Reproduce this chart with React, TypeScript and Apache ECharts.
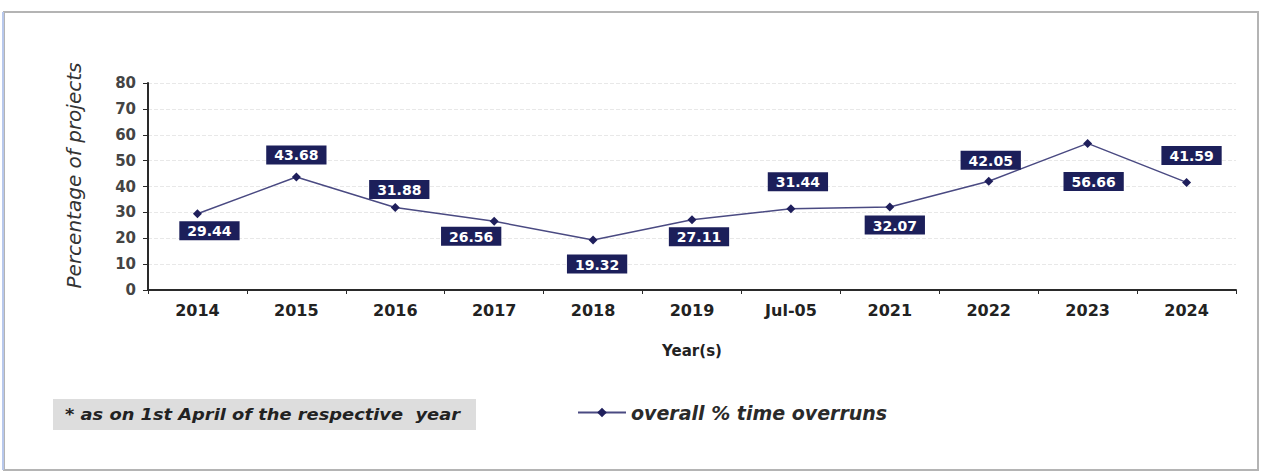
import React, { useEffect, useRef } from "react";
import * as echarts from "echarts";

const categories = ["2014", "2015", "2016", "2017", "2018", "2019", "Jul-05", "2021", "2022", "2023", "2024"];
const overrunValues = [29.44, 43.68, 31.88, 26.56, 19.32, 27.11, 31.44, 32.07, 42.05, 56.66, 41.59];
const yTicks = [0, 10, 20, 30, 40, 50, 60, 70, 80];
const seriesName = "overall % time overruns";
const footnote = "* as on 1st April of the respective  year";

// label placement (style only): [position, distance, xOffset]
const labelPlacement: [string, number, number][] = [
  ["bottom", 3, 12],
  ["top", 8, 0],
  ["top", 4, 4],
  ["bottom", 1, -23],
  ["bottom", 10, 4],
  ["bottom", 3, 7],
  ["top", 13, 7],
  ["bottom", 4, 5],
  ["top", 7, 2],
  ["bottom", 24, 6],
  ["top", 13, 5],
];

const FONT = "'DejaVu Sans', Verdana, sans-serif";

export default function App() {
  const ref = useRef<HTMLDivElement>(null);
  useEffect(() => {
    if (!ref.current) return;
    const chart = echarts.init(ref.current, undefined, { renderer: "svg" });
    const data = overrunValues.map((v, i) => {
      const [pos, dist, dx] = labelPlacement[i];
      return {
        value: v,
        label: { position: pos as any, distance: dist, offset: [dx, 0] },
      };
    });
    chart.setOption({
      animation: false,
      backgroundColor: "#ffffff",
      textStyle: { fontFamily: FONT },
      grid: { left: 148, right: 27, top: 83, bottom: 183, containLabel: false },
      legend: {
        left: 572,
        top: 398,
        itemWidth: 48,
        itemHeight: 12,
        itemGap: 6,
        data: [seriesName],
        textStyle: { fontSize: 19, fontStyle: "italic", fontWeight: "bold", color: "#2a2a2a", fontFamily: FONT },
      },
      xAxis: {
        type: "category",
        data: categories,
        boundaryGap: true,
        name: "Year(s)",
        nameLocation: "middle",
        nameGap: 53,
        nameTextStyle: { fontSize: 15, fontWeight: "bold", color: "#222", fontFamily: FONT },
        axisLine: { lineStyle: { color: "#2a2a2a", width: 2 } },
        axisTick: { show: true, length: 4, lineStyle: { color: "#2a2a2a" }, alignWithLabel: false },
        axisLabel: { fontSize: 16, fontWeight: "bold", color: "#222", margin: 12, fontFamily: FONT },
        splitLine: { show: false },
      },
      yAxis: {
        type: "value",
        min: yTicks[0],
        max: yTicks[yTicks.length - 1],
        interval: yTicks[1] - yTicks[0],
        name: "Percentage of projects",
        nameLocation: "middle",
        nameRotate: 90,
        nameGap: 64,
        nameTextStyle: { fontSize: 20, fontStyle: "italic", color: "#333", fontFamily: FONT, padding: [0, 0, 0, 22] },
        axisLine: { show: true, lineStyle: { color: "#2a2a2a", width: 2 } },
        axisTick: { show: true, length: 5, lineStyle: { color: "#2a2a2a" } },
        axisLabel: { fontSize: 15, fontWeight: "bold", color: "#444", margin: 12, fontFamily: FONT },
        splitLine: { show: true, lineStyle: { color: "#e8e8e8", type: "dashed", width: 1 } },
      },
      series: [
        {
          name: seriesName,
          type: "line",
          data,
          symbol: "diamond",
          symbolSize: 9,
          lineStyle: { color: "#4a4a82", width: 1.5 },
          itemStyle: { color: "#1f1f5c" },
          label: {
            show: true,
            formatter: (p: any) => Number(p.value).toFixed(2),
            backgroundColor: "#1c1f5a",
            color: "#ffffff",
            fontWeight: "bold",
            fontSize: 14,
            padding: [3, 8, 2, 8],
            fontFamily: FONT,
          },
        },
      ],
      graphic: [
        {
          type: "rect",
          z: -10,
          shape: { x: 4, y: 12, width: 1254, height: 458 },
          style: { fill: "#ffffff", stroke: "#b4b4b4", lineWidth: 2 },
        },
        {
          type: "line",
          shape: { x1: 3, y1: 12, x2: 3, y2: 470 },
          style: { stroke: "#b8c8ec", lineWidth: 2 },
        },
        {
          type: "rect",
          shape: { x: 53, y: 399, width: 423, height: 31 },
          style: { fill: "#dddddd" },
        },
        {
          type: "text",
          x: 65,
          y: 415,
          scaleX: 1.19,
          style: {
            text: footnote,
            fill: "#222",
            font: `italic bold 15px ${FONT}`,
            verticalAlign: "middle",
          },
        },
      ],
    });
    return () => chart.dispose();
  }, []);
  return <div ref={ref} style={{ position: "fixed", left: 0, top: 0, width: 1263, height: 473 }} />;
}
